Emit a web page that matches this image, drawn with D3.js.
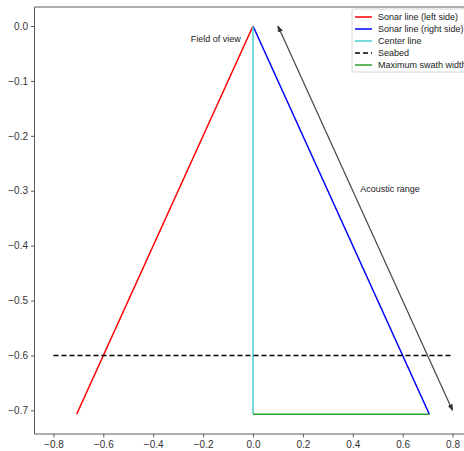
<!DOCTYPE html>
<html>
<head>
<meta charset="utf-8">
<script src="https://cdn.jsdelivr.net/npm/d3@7"></script>
<style>
  body { margin: 0; background: #fff; }
  text { font-family: "Liberation Sans", Arial, sans-serif; }
</style>
</head>
<body>
<div id="chart"></div>
<script>
// sonar geometry
const leftLine   = [[0, 0], [-0.707, -0.707]];
const rightLine  = [[0, 0], [0.707, -0.707]];
const centerLine = [[0, 0], [0, -0.707]];
const seabed     = [[-0.8, -0.6], [0.8, -0.6]];
const swath      = [[0, -0.707], [0.707, -0.707]];
const rangeArrow = [[0.1, 0], [0.8, -0.7]];

const xTicks = [-0.8, -0.6, -0.4, -0.2, 0.0, 0.2, 0.4, 0.6, 0.8];
const yTicks = [0.0, -0.1, -0.2, -0.3, -0.4, -0.5, -0.6, -0.7];

const series = [
  { name: 'Sonar line (left side)',  pts: leftLine,   color: '#ff0000', dash: null },
  { name: 'Sonar line (right side)', pts: rightLine,  color: '#0000ff', dash: null },
  { name: 'Center line',             pts: centerLine, color: '#48d1cc', dash: null },
  { name: 'Seabed',                  pts: seabed,     color: '#000000', dash: '5,3' },
  { name: 'Maximum swath width',     pts: swath,      color: '#2ca02c', dash: null }
];

const W = 464, H = 451;
const svg = d3.select('#chart').append('svg').attr('width', W).attr('height', H);

const x = d3.scaleLinear().domain([-0.876, 0.876]).range([34.5, 471.5]);
const y = d3.scaleLinear().domain([0.0346, -0.743]).range([7, 434]);

// spines
const ax = svg.append('g').attr('stroke', '#333').attr('stroke-width', 0.8).attr('fill', 'none');
ax.append('line').attr('x1', x.range()[0]).attr('x2', x.range()[0]).attr('y1', 7).attr('y2', 434);
ax.append('line').attr('x1', x.range()[0]).attr('x2', x.range()[1]).attr('y1', 7).attr('y2', 7);
ax.append('line').attr('x1', x.range()[0]).attr('x2', x.range()[1]).attr('y1', 434).attr('y2', 434);

const fmt = d => d3.format('.1f')(d).replace('-', '\u2212');

const xAxis = svg.append('g').attr('transform', 'translate(0,434)')
  .call(d3.axisBottom(x).tickValues(xTicks).tickFormat(fmt).tickSize(3.5).tickPadding(3));
const yAxis = svg.append('g').attr('transform', `translate(${x.range()[0]},0)`)
  .call(d3.axisLeft(y).tickValues(yTicks).tickFormat(fmt).tickSize(3.5).tickPadding(3));
[xAxis, yAxis].forEach(g => {
  g.select('.domain').remove();
  g.selectAll('line').attr('stroke', '#333').attr('stroke-width', 0.8);
  g.selectAll('text').attr('font-size', 10).attr('fill', '#333')
    .style('font-family', '"Liberation Sans", Arial, sans-serif');
});

const line = d3.line().x(d => x(d[0])).y(d => y(d[1]));

series.forEach(s => {
  svg.append('path').attr('d', line(s.pts))
    .attr('fill', 'none').attr('stroke', s.color).attr('stroke-width', 1.5)
    .attr('stroke-dasharray', s.dash);
});

// double headed arrow for acoustic range
const defs = svg.append('defs');
defs.append('marker').attr('id', 'ah').attr('viewBox', '0 -4 8 8')
  .attr('refX', 8).attr('refY', 0).attr('markerWidth', 6).attr('markerHeight', 6)
  .attr('markerUnits', 'userSpaceOnUse').attr('orient', 'auto-start-reverse')
  .append('path').attr('d', 'M0,-3L8,0L0,3Z').attr('fill', '#333')
  .attr('stroke', '#333').attr('stroke-width', 0.8);
svg.append('path').attr('d', line(rangeArrow))
  .attr('stroke', '#444').attr('stroke-width', 1.2).attr('fill', 'none')
  .attr('marker-start', 'url(#ah)').attr('marker-end', 'url(#ah)');

svg.append('text').attr('x', x(-0.25)).attr('y', y(-0.03))
  .attr('font-size', 9).attr('fill', '#222').text('Field of view');
svg.append('text').attr('x', x(0.43)).attr('y', y(-0.303))
  .attr('font-size', 9).attr('fill', '#222').text('Acoustic range');

// legend
const lg = svg.append('g').attr('transform', 'translate(352,9)');
lg.append('rect').attr('width', 130).attr('height', 63).attr('rx', 2)
  .attr('fill', '#fff').attr('fill-opacity', 0.8).attr('stroke', '#ccc').attr('stroke-width', 0.8);
series.forEach((s, i) => {
  const yy = 8 + i * 12;
  lg.append('line').attr('x1', 3).attr('x2', 20).attr('y1', yy).attr('y2', yy)
    .attr('stroke', s.color).attr('stroke-width', 1.5).attr('stroke-dasharray', s.dash);
  lg.append('text').attr('x', 26).attr('y', yy + 3.3).attr('font-size', 9)
    .attr('fill', '#222').text(s.name);
});
</script>
</body>
</html>
